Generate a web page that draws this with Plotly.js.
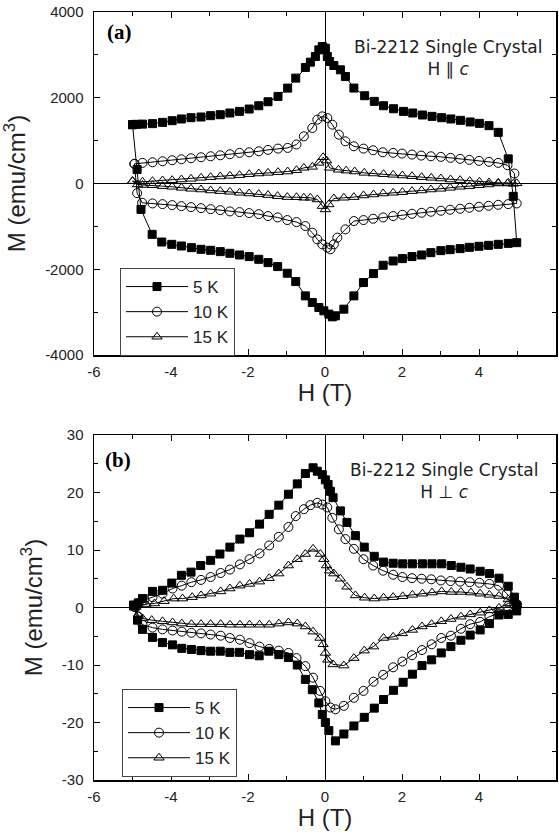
<!DOCTYPE html>
<html>
<head>
<meta charset="utf-8">
<script src="https://cdn.plot.ly/plotly-3.0.1.min.js"></script>
<style>html,body{margin:0;padding:0;background:#fff;}#chart{width:559px;height:838px;}</style>
</head>
<body>
<div id="chart"></div>
<script>
// ---------- Data: panel (a) H || c ----------
const H_a_5K = [-5.00,-4.88,-4.78,-4.49,-4.24,-3.98,-3.73,-3.47,-3.22,-2.97,-2.72,-2.47,-2.22,-1.97,-1.72,-1.48,-1.23,-0.98,-0.76,-0.51,-0.33,-0.16,-0.03,0.10,0.19,0.27,0.49,0.75,1.00,1.26,1.51,1.77,2.01,2.26,2.51,2.75,3.01,3.25,3.51,3.75,4.00,4.25,4.50,4.76,4.98,
  4.89,4.76,4.50,4.26,4.01,3.77,3.52,3.27,3.03,2.78,2.53,2.28,2.04,1.78,1.52,1.28,1.03,0.75,0.53,0.40,0.23,0.12,0.06,0.01,-0.07,-0.16,-0.25,-0.38,-0.51,-0.76,-0.97,-1.22,-1.48,-1.72,-1.97,-2.22,-2.47,-2.72,-2.97,-3.22,-3.48,-3.73,-3.97,-4.22,-4.48,-4.74,-4.90,-5.00];
const M_a_5K = [1372,326,-605,-1186,-1365,-1419,-1458,-1496,-1535,-1558,-1589,-1628,-1667,-1705,-1768,-1845,-1938,-2093,-2287,-2621,-2775,-2892,-2969,-3047,-3110,-3086,-2931,-2621,-2310,-2101,-1907,-1807,-1752,-1705,-1667,-1613,-1566,-1543,-1519,-1489,-1465,-1442,-1419,-1396,-1380,
  -300,575,1193,1349,1403,1435,1473,1505,1535,1566,1598,1644,1682,1744,1814,1915,2047,2226,2496,2652,2752,2845,2961,3156,3194,3117,2961,2830,2706,2458,2225,2031,1907,1814,1737,1682,1644,1605,1582,1551,1535,1505,1465,1426,1396,1385,1380,1372];

const H_a_10K = [-4.95,-4.88,-4.75,-4.48,-4.22,-3.97,-3.73,-3.48,-3.22,-2.97,-2.72,-2.47,-2.22,-1.97,-1.72,-1.48,-1.23,-0.98,-0.74,-0.51,-0.33,-0.20,-0.07,0.06,0.14,0.23,0.32,0.53,0.75,1.00,1.25,1.51,1.77,2.01,2.26,2.51,2.75,3.01,3.25,3.51,3.75,4.00,4.25,4.50,4.76,4.98,
  4.92,4.74,4.50,4.26,4.00,3.75,3.51,3.26,3.01,2.75,2.50,2.26,2.00,1.77,1.50,1.25,1.00,0.75,0.53,0.36,0.19,0.06,-0.07,-0.20,-0.33,-0.55,-0.74,-0.97,-1.22,-1.48,-1.72,-1.97,-2.22,-2.47,-2.72,-2.97,-3.22,-3.48,-3.73,-3.97,-4.22,-4.48,-4.74,-4.95];
const M_a_10K = [458,-225,-449,-465,-481,-504,-528,-551,-574,-598,-621,-651,-667,-690,-714,-760,-791,-853,-900,-992,-1147,-1302,-1419,-1496,-1535,-1419,-1263,-1070,-876,-853,-822,-791,-760,-729,-706,-683,-659,-636,-612,-589,-566,-543,-520,-497,-481,-465,
  233,426,481,505,528,551,575,598,621,635,651,675,698,714,728,775,814,868,984,1140,1372,1528,1566,1489,1295,1100,910,830,814,784,751,728,714,682,658,635,612,589,565,542,519,495,481,458];

const H_a_15K = [-5.00,-4.87,-4.74,-4.48,-4.22,-3.97,-3.73,-3.48,-3.22,-2.97,-2.72,-2.47,-2.22,-1.97,-1.72,-1.48,-1.23,-0.98,-0.74,-0.55,-0.38,-0.20,-0.07,0.01,0.10,0.23,0.49,0.75,1.00,1.26,1.51,1.77,2.01,2.26,2.51,2.75,3.01,3.25,3.51,3.75,4.00,4.25,4.50,4.76,4.98,
  4.89,4.74,4.50,4.26,4.01,3.76,3.51,3.26,3.01,2.76,2.51,2.26,2.01,1.77,1.52,1.26,1.02,0.77,0.55,0.35,0.12,0.04,-0.05,-0.16,-0.33,-0.55,-0.74,-0.97,-1.22,-1.48,-1.72,-1.97,-2.22,-2.47,-2.72,-2.97,-3.22,-3.48,-3.73,-3.97,-4.22,-4.48,-4.74,-5.00];
const M_a_15K = [54,-23,-35,-40,-62,-77,-101,-124,-140,-163,-178,-194,-217,-233,-248,-271,-295,-318,-320,-333,-333,-372,-527,-605,-488,-349,-333,-318,-279,-256,-233,-217,-202,-178,-163,-140,-124,-101,-77,-62,-40,-23,0,16,5,
  -7,0,16,23,40,54,77,93,116,132,147,171,186,202,217,233,248,280,300,320,365,535,612,481,388,365,310,279,264,248,233,217,194,178,163,147,132,109,93,77,70,54,40,54];

// ---------- Data: panel (b) H ⊥ c ----------
const H_b_5K = [-4.97,-4.87,-4.74,-4.48,-4.22,-3.96,-3.72,-3.47,-3.22,-2.97,-2.72,-2.47,-2.22,-1.96,-1.71,-1.46,-1.20,-0.95,-0.72,-0.51,-0.33,-0.16,-0.07,0.01,0.10,0.27,0.49,0.75,1.02,1.28,1.52,1.78,2.03,2.27,2.52,2.77,3.02,3.27,3.53,3.77,4.03,4.27,4.52,4.76,4.98,
  4.98,4.92,4.76,4.52,4.27,4.03,3.77,3.53,3.28,3.03,2.78,2.53,2.27,2.02,1.77,1.52,1.28,1.02,0.79,0.57,0.40,0.21,0.14,0.08,0.01,-0.07,-0.20,-0.31,-0.51,-0.72,-0.95,-1.20,-1.45,-1.70,-1.96,-2.21,-2.47,-2.73,-2.97,-3.23,-3.48,-3.73,-3.98,-4.22,-4.48,-4.74,-4.85,-4.97];
const M_b_5K = [0.4,-2.2,-3.8,-5.2,-6.1,-6.5,-7.1,-7.3,-7.5,-7.6,-7.6,-7.8,-7.8,-8.2,-8.4,-7.6,-8.2,-8.7,-10.0,-12.5,-14.3,-16.6,-18.6,-20.0,-21.4,-23.2,-22.0,-20.6,-19.1,-17.5,-16.0,-14.4,-13.0,-11.6,-10.1,-9.1,-7.9,-6.8,-5.7,-4.8,-3.9,-2.8,-1.3,-1.2,-0.6,
  0.4,1.8,3.7,5.1,5.9,6.3,6.7,7.0,7.3,7.6,7.6,7.6,7.6,7.6,7.7,7.9,8.9,10.5,12.5,14.8,16.8,19.1,20.2,21.4,22.2,23.1,23.7,24.3,23.3,21.5,19.7,17.8,16.2,14.5,13.0,11.9,10.5,9.3,8.2,7.3,6.15,5.6,4.25,3.0,2.8,1.55,0.8,0.4];

const H_b_10K = [-4.94,-4.85,-4.74,-4.48,-4.22,-3.96,-3.72,-3.47,-3.22,-2.97,-2.71,-2.47,-2.21,-1.96,-1.70,-1.45,-1.20,-0.95,-0.74,-0.51,-0.31,-0.13,0.01,0.14,0.27,0.49,0.75,1.00,1.26,1.51,1.77,2.01,2.26,2.52,2.77,3.02,3.27,3.53,3.77,4.03,4.27,4.52,4.76,4.99,
  4.89,4.72,4.52,4.27,4.01,3.76,3.51,3.26,3.01,2.76,2.51,2.26,2.01,1.77,1.51,1.25,1.00,0.75,0.53,0.36,0.19,0.06,-0.07,-0.20,-0.38,-0.55,-0.76,-0.95,-1.20,-1.45,-1.70,-1.96,-2.21,-2.47,-2.71,-2.97,-3.22,-3.47,-3.72,-3.96,-4.22,-4.48,-4.69,-4.87,-4.94];
const M_b_10K = [0.1,-1.6,-3.0,-3.5,-3.8,-4.0,-4.2,-4.4,-4.5,-4.7,-4.9,-5.3,-5.6,-6.2,-6.8,-7.2,-7.5,-7.9,-8.8,-10.2,-12.2,-14.5,-16.3,-17.4,-17.7,-17.1,-15.7,-14.5,-12.9,-11.7,-10.4,-9.4,-8.3,-7.4,-6.4,-5.3,-4.9,-3.7,-2.9,-2.5,-1.6,-1.0,-0.5,0.3,
  1.3,2.4,3.8,4.1,4.3,4.4,4.5,4.6,4.7,4.9,5.0,5.1,5.3,5.7,6.4,7.3,8.4,10.2,11.9,13.6,15.6,17.4,17.9,18.2,17.8,17.1,15.9,14.0,12.3,10.8,9.4,8.4,7.5,6.6,6.0,5.3,4.8,4.4,3.8,3.3,2.4,1.8,1.3,0.7,0.1];

const H_b_15K = [-4.95,-4.85,-4.74,-4.50,-4.22,-3.96,-3.72,-3.47,-3.22,-2.97,-2.71,-2.47,-2.21,-1.96,-1.70,-1.45,-1.20,-0.95,-0.72,-0.51,-0.31,-0.13,-0.05,0.01,0.07,0.21,0.49,0.75,1.02,1.26,1.52,1.77,2.01,2.27,2.52,2.77,3.02,3.27,3.53,3.77,4.03,4.27,4.52,4.76,4.98,
  4.93,4.76,4.52,4.27,4.03,3.79,3.53,3.28,3.03,2.78,2.53,2.27,2.02,1.77,1.52,1.28,1.03,0.79,0.57,0.40,0.23,0.12,0.04,-0.03,-0.12,-0.31,-0.51,-0.72,-0.95,-1.20,-1.45,-1.70,-1.96,-2.21,-2.47,-2.71,-2.97,-3.22,-3.45,-3.70,-3.93,-4.18,-4.43,-4.65,-4.91];
const M_b_15K = [-0.05,-1.3,-1.9,-2.2,-2.4,-2.6,-2.8,-2.9,-2.9,-2.9,-2.9,-3.0,-3.0,-3.0,-3.0,-3.0,-2.8,-2.6,-2.8,-3.3,-4.2,-5.3,-6.4,-7.9,-9.1,-9.9,-10.1,-8.8,-7.5,-6.8,-5.3,-5.1,-4.5,-3.9,-3.3,-2.9,-2.4,-2.0,-1.6,-1.2,-0.9,-0.5,-0.05,0.7,1.0,
  0.8,1.4,2.0,2.2,2.4,2.6,2.7,2.7,2.8,2.6,2.4,2.2,1.95,1.8,1.7,1.55,1.7,2.1,3.6,5.0,5.9,6.4,7.3,8.4,9.3,10.2,9.3,8.4,7.3,5.9,5.1,4.5,4.1,3.8,3.3,2.8,2.4,2.1,1.8,1.55,1.55,1.1,0.7,0.6,0.1];

// ---------- Tick labels ----------
const xTickVals = [-6,-4,-2,0,2,4,6];
const xTickText = ['-6','-4','-2','0','2','4','6'];
const yaTickVals = [-4000,-2000,0,2000,4000];
const yaTickText = ['-4000','-2000','0','2000','4000'];
const ybTickVals = [-30,-20,-10,0,10,20,30];
const ybTickText = ['-30','-20','-10','0','10','20','30'];
const seriesNames = ['5 K','10 K','15 K'];

// ---------- Layout helpers (pixel -> paper) ----------
const W = 559, HGT = 838;
const mL = 94, mR = 3, mT = 12, mB = 58;
const pw = W - mL - mR, ph = HGT - mT - mB;
const px2x = p => (p - mL) / pw;
const py2y = p => (HGT - mB - p) / ph;

const FN = "Liberation Sans, Arial, sans-serif";
const FA = "DejaVu Sans, sans-serif";
const FS = "Liberation Serif, serif";

const styles = [
  {symbol:'square', size:8, color:'#000', line:{color:'#000', width:1}},
  {symbol:'circle-open', size:9, color:'#000', line:{color:'#000', width:1}},
  {symbol:'triangle-up-open', size:9, color:'#000', line:{color:'#000', width:1}}
];

function mk(x, y, i, xa, ya, leg){
  return {x:x, y:y, type:'scatter', mode:'lines+markers', name:seriesNames[i],
    xaxis:xa, yaxis:ya, legend:leg, line:{color:'#000', width:1},
    marker:styles[i], cliponaxis:false};
}

const data = [
  mk(H_a_5K, M_a_5K, 0, 'x', 'y', 'legend'),
  mk(H_a_10K, M_a_10K, 1, 'x', 'y', 'legend'),
  mk(H_a_15K, M_a_15K, 2, 'x', 'y', 'legend'),
  mk(H_b_5K, M_b_5K, 0, 'x2', 'y2', 'legend2'),
  mk(H_b_10K, M_b_10K, 1, 'x2', 'y2', 'legend2'),
  mk(H_b_15K, M_b_15K, 2, 'x2', 'y2', 'legend2')
];

function xAxis(anchor){
  return {anchor:anchor, domain:[0,1], range:[-6,6], tickmode:'array', tickvals:xTickVals, ticktext:xTickText,
    ticks:'inside', ticklen:6, tickwidth:1, tickcolor:'#000',
    minor:{dtick:1, tick0:0, ticks:'inside', ticklen:4, tickcolor:'#000', tickwidth:1},
    showline:true, linecolor:'#000', linewidth:1.5, mirror:'allticks',
    zeroline:true, zerolinecolor:'#000', zerolinewidth:1, showgrid:false,
    tickfont:{family:FN, size:15, color:'#222'}, ticklabelstandoff:2,
    title:{text:'H (T)', font:{family:FN, size:24, color:'#222'}, standoff:2}};
}
function yAxis(anchor, dom, rng, tv, tt, minorD){
  return {anchor:anchor, domain:dom, range:rng, tickmode:'array', tickvals:tv, ticktext:tt,
    ticks:'inside', ticklen:6, tickwidth:1, tickcolor:'#000',
    minor:{dtick:minorD, tick0:0, ticks:'inside', ticklen:4, tickcolor:'#000', tickwidth:1},
    showline:true, linecolor:'#000', linewidth:1.5, mirror:'allticks',
    zeroline:true, zerolinecolor:'#000', zerolinewidth:1, showgrid:false,
    tickfont:{family:FN, size:15, color:'#222'}, ticklabelstandoff:6,
    title:{text:'M (emu/cm<sup>3</sup>)', font:{family:FN, size:24, color:'#222'}, standoff:12}};
}

const legendBase = {xanchor:'left', yanchor:'top', bgcolor:'#fff', bordercolor:'#444', borderwidth:1,
  font:{family:FN, size:17, color:'#222'}, itemwidth:62, tracegroupgap:0};

const layout = {
  width:W, height:HGT, margin:{l:mL, r:mR, t:mT, b:mB, autoexpand:false},
  paper_bgcolor:'#fff', plot_bgcolor:'#fff', showlegend:true,
  xaxis:xAxis('y'),
  yaxis:yAxis('x', [py2y(355), 1], [-4000,4000], yaTickVals, yaTickText, 1000),
  xaxis2:xAxis('y2'),
  yaxis2:yAxis('x2', [0, py2y(435)], [-30,30], ybTickVals, ybTickText, 5),
  legend:Object.assign({x:px2x(120), y:py2y(268)}, legendBase),
  legend2:Object.assign({x:px2x(122), y:py2y(689)}, legendBase),
  annotations:[
    {xref:'paper', yref:'paper', x:px2x(119), y:py2y(32), xanchor:'center', yanchor:'middle', text:'<b>(a)</b>', showarrow:false,
     font:{family:FS, size:21, color:'#000'}},
    {xref:'paper', yref:'paper', x:px2x(448), y:py2y(58), xanchor:'center', yanchor:'middle', text:'Bi-2212 Single Crystal<br>H ∥ <i>c</i>', showarrow:false,
     font:{family:FA, size:17, color:'#222'}},
    {xref:'paper', yref:'paper', x:px2x(118), y:py2y(460), xanchor:'center', yanchor:'middle', text:'<b>(b)</b>', showarrow:false,
     font:{family:FS, size:21, color:'#000'}},
    {xref:'paper', yref:'paper', x:px2x(444), y:py2y(481), xanchor:'center', yanchor:'middle', text:'Bi-2212 Single Crystal<br>H ⊥ <i>c</i>', showarrow:false,
     font:{family:FA, size:17, color:'#222'}}
  ]
};

Plotly.newPlot('chart', data, layout, {displayModeBar:false, staticPlot:true});
</script>
</body>
</html>
